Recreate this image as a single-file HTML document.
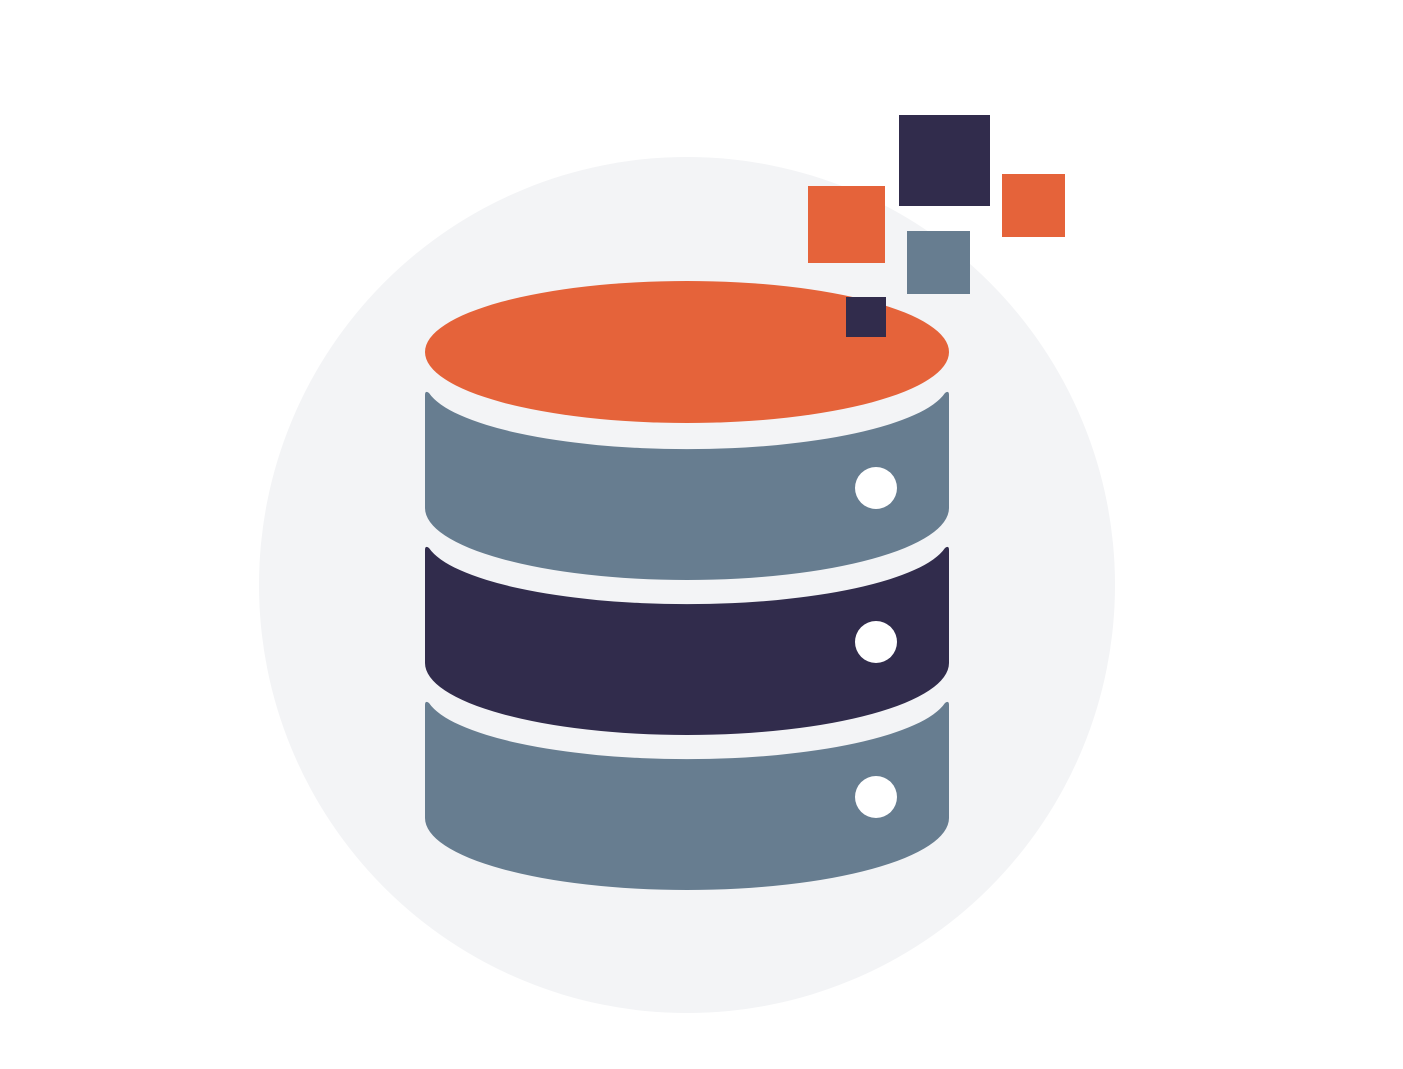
<!DOCTYPE html>
<html><head><meta charset="utf-8"><style>html,body{margin:0;padding:0;background:#fff}svg{display:block}</style></head>
<body>
<svg width="1403" height="1069" viewBox="0 0 1403 1069" xmlns="http://www.w3.org/2000/svg">
<circle cx="687" cy="585" r="428" fill="#f3f4f6"/>
<ellipse cx="687" cy="352" rx="262" ry="71" fill="#e5633a"/>
<path d="M425,395 Q425,390 429,393 A262,68 0 0 0 945,393 Q949,390 949,395 L949,508 A262,72 0 0 1 425,508 Z" fill="#677d90"/>
<path d="M425,550 Q425,545 429,548 A262,68 0 0 0 945,548 Q949,545 949,550 L949,663 A262,72 0 0 1 425,663 Z" fill="#312c4c"/>
<path d="M425,705 Q425,700 429,703 A262,68 0 0 0 945,703 Q949,700 949,705 L949,818 A262,72 0 0 1 425,818 Z" fill="#677d90"/>
<circle cx="876" cy="488" r="21" fill="#fff"/>
<circle cx="876" cy="642" r="21" fill="#fff"/>
<circle cx="876" cy="797" r="21" fill="#fff"/>
<rect x="899" y="115" width="91" height="91" fill="#312c4c"/>
<rect x="808" y="186" width="77" height="77" fill="#e5633a"/>
<rect x="1002" y="174" width="63" height="63" fill="#e5633a"/>
<rect x="907" y="231" width="63" height="63" fill="#677d90"/>
<rect x="846" y="297" width="40" height="40" fill="#312c4c"/>
</svg>
</body></html>
